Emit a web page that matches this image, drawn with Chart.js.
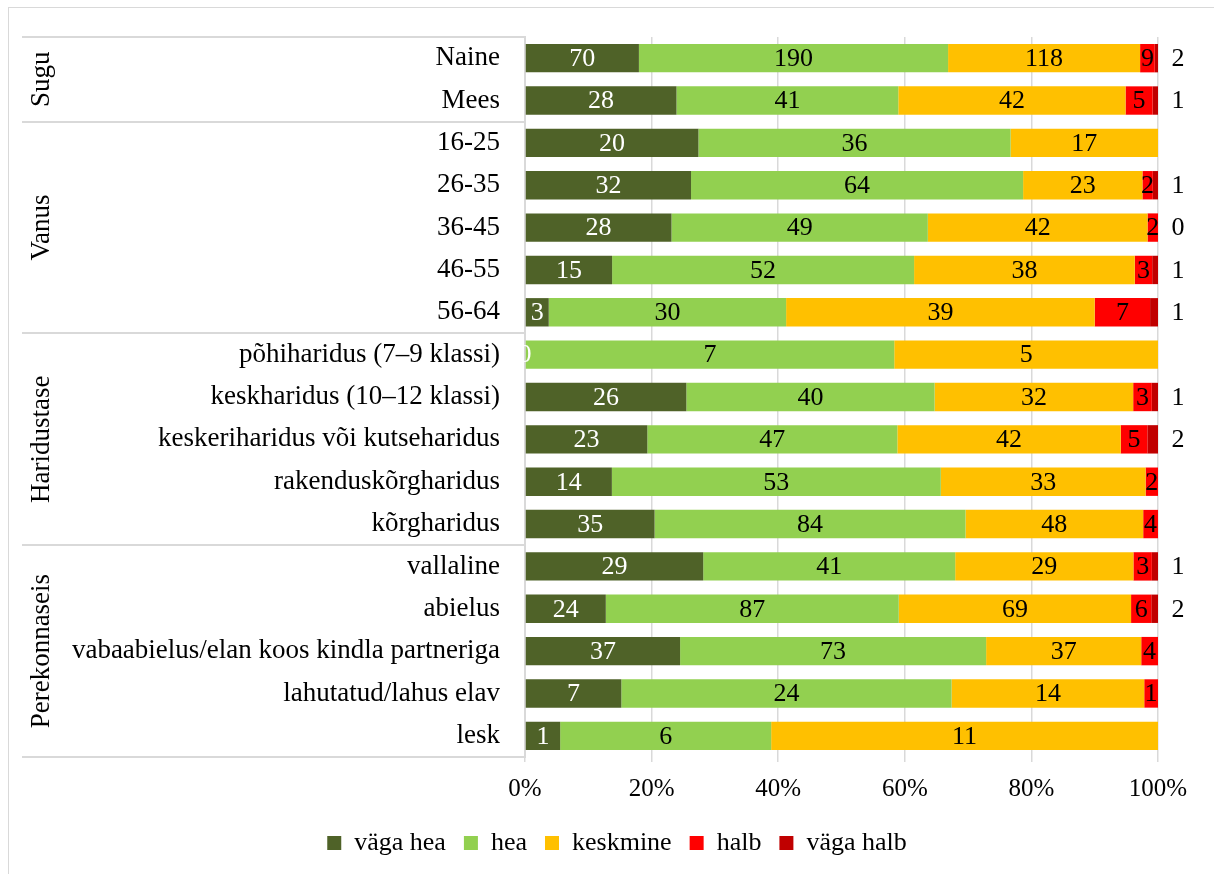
<!DOCTYPE html>
<html>
<head>
<meta charset="utf-8">
<title>Hinnang tervisele</title>
<script src="https://cdn.jsdelivr.net/npm/chart.js@4.4.1/dist/chart.umd.min.js"></script>
<style>
  body { margin: 0; background: #fff; }
</style>
</head>
<body>
<canvas id="healthChart" width="1214" height="874"></canvas>
<script>
// Categories (top to bottom) and their groups
const categories = [
    'Naine', 'Mees',
    '16-25', '26-35', '36-45', '46-55', '56-64',
    'põhiharidus (7–9 klassi)', 'keskharidus (10–12 klassi)', 'keskeriharidus või kutseharidus', 'rakenduskõrgharidus', 'kõrgharidus',
    'vallaline', 'abielus', 'vabaabielus/elan koos kindla partneriga', 'lahutatud/lahus elav', 'lesk'
];
const groupNames = ['Sugu', 'Vanus', 'Haridustase', 'Perekonnaseis'];
const groupSizes = [2, 5, 5, 5];

// Counts per answer
const vagaHea  = [70, 28, 20, 32, 28, 15, 3, 0, 26, 23, 14, 35, 29, 24, 37, 7, 1];
const hea      = [190, 41, 36, 64, 49, 52, 30, 7, 40, 47, 53, 84, 41, 87, 73, 24, 6];
const keskmine = [118, 42, 17, 23, 42, 38, 39, 5, 32, 42, 33, 48, 29, 69, 37, 14, 11];
const halb     = [9, 5, null, 2, 2, 3, 7, null, 3, 5, 2, 4, 3, 6, 4, 1, null];
const vagaHalb = [2, 1, null, 1, 0, 1, 1, null, 1, 2, null, null, 1, 2, null, null, null];

const seriesNames = ['väga hea', 'hea', 'keskmine', 'halb', 'väga halb'];
const seriesColors = ['#4F6228', '#92D050', '#FFC000', '#FF0000', '#C00000'];
const xTicks = [0, 20, 40, 60, 80, 100];

const FONT = "'Liberation Serif', 'Times New Roman', serif";

const rawSeries = [vagaHea, hea, keskmine, halb, vagaHalb];
const totals = categories.map((c, i) => rawSeries.reduce((s, arr) => s + (arr[i] || 0), 0));
const toPct = arr => arr.map((v, i) => v === null ? null : v / totals[i] * 100);

// Draw the count labels on each segment
const valueLabels = {
    id: 'valueLabels',
    afterDatasetsDraw(chart) {
        const ctx = chart.ctx;
        const area = chart.chartArea;
        ctx.save();
        ctx.font = '26px ' + FONT;
        ctx.textAlign = 'center';
        ctx.textBaseline = 'middle';
        chart.data.datasets.forEach((ds, d) => {
            const meta = chart.getDatasetMeta(d);
            meta.data.forEach((bar, i) => {
                const raw = ds.raw[i];
                if (raw === null) return;
                let x = (bar.x + bar.base) / 2;
                ctx.fillStyle = d === 0 ? '#ffffff' : '#000000';
                if (d === 4) {
                    x = area.right + 20;
                }
                ctx.fillText(String(raw), x, bar.y + 1);
            });
        });
        ctx.restore();
    }
};

// Group names and separator lines left of the category labels
const groupAxis = {
    id: 'groupAxis',
    afterLayout(chart) {
        // legend sits a bit right of the centre, like the original
        if (chart.legend) {
            chart.legend.left += 27;
            chart.legend.right += 27;
        }
    },
    afterDraw(chart) {
        const ctx = chart.ctx;
        const yScale = chart.scales.y;
        const left = 22;
        const right = chart.chartArea.left;
        const step = yScale.getPixelForValue(1) - yScale.getPixelForValue(0);
        ctx.save();
        // outer frame
        ctx.strokeStyle = '#d9d9d9';
        ctx.lineWidth = 1;
        ctx.strokeRect(8.5, 7.5, 1300, 1000);
        ctx.lineWidth = 2;
        let start = 0;
        const lines = [yScale.top];
        groupNames.forEach((name, g) => {
            const end = start + groupSizes[g];
            const top = yScale.getPixelForValue(start) - step / 2;
            const bottom = yScale.getPixelForValue(end - 1) + step / 2;
            lines.push(bottom);
            ctx.save();
            ctx.translate(42, (top + bottom) / 2);
            ctx.rotate(-Math.PI / 2);
            ctx.font = '27px ' + FONT;
            ctx.fillStyle = '#000';
            ctx.textAlign = 'center';
            ctx.textBaseline = 'middle';
            ctx.fillText(name, 0, 0);
            ctx.restore();
            start = end;
        });
        lines.forEach(y => {
            ctx.beginPath();
            ctx.moveTo(left, Math.round(y));
            ctx.lineTo(right, Math.round(y));
            ctx.stroke();
        });
        ctx.restore();
    }
};

const ctx = document.getElementById('healthChart');
new Chart(ctx, {
    type: 'bar',
    data: {
        labels: categories,
        datasets: rawSeries.map((arr, d) => ({
            label: seriesNames[d],
            data: toPct(arr),
            raw: arr,
            backgroundColor: seriesColors[d],
            borderWidth: 0,
            barPercentage: 0.67,
            categoryPercentage: 1
        }))
    },
    options: {
        indexAxis: 'y',
        responsive: false,
        animation: false,
        devicePixelRatio: 1,
        layout: {
            padding: { top: 37, left: 22, right: 56, bottom: 8 }
        },
        scales: {
            x: {
                stacked: true,
                min: 0,
                max: 100,
                afterBuildTicks(scale) {
                    scale.ticks = xTicks.map(v => ({ value: v }));
                },
                afterFit(scale) {
                    scale.height = 55;
                },
                grid: {
                    color: '#d9d9d9',
                    lineWidth: 1.5,
                    tickLength: 5
                },
                border: { display: false },
                ticks: {
                    font: { family: FONT, size: 25 },
                    color: '#000',
                    padding: 12,
                    callback: v => v + '%'
                }
            },
            y: {
                stacked: true,
                afterFit(scale) {
                    scale.width = 503;
                    scale.paddingTop = 0;
                    scale.paddingBottom = 0;
                },
                grid: { display: false, drawTicks: false },
                border: { display: true, color: '#d9d9d9', width: 2 },
                ticks: {
                    font: { family: FONT, size: 27 },
                    color: '#000',
                    padding: 25,
                    autoSkip: false
                }
            }
        },
        plugins: {
            legend: {
                position: 'bottom',
                labels: {
                    font: { family: FONT, size: 26 },
                    color: '#000',
                    boxWidth: 14,
                    boxHeight: 14,
                    padding: 18
                }
            },
            tooltip: { enabled: false }
        }
    },
    plugins: [valueLabels, groupAxis]
});
</script>
</body>
</html>
